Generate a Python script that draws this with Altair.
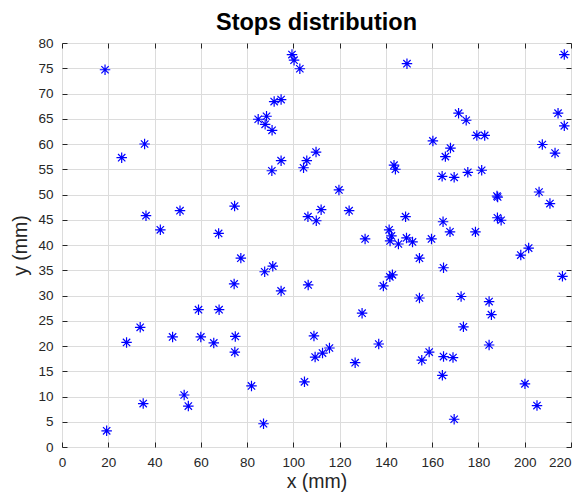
import altair as alt
import pandas as pd

xs = [18.6, 19.3, 25.8, 27.9, 33.8, 35.7, 35.1, 36.3, 42.5, 47.8, 51.0, 52.8, 54.6, 59.0, 60.0,
      65.6, 67.7, 67.9, 74.4, 74.6, 74.9, 74.7, 77.3, 81.9, 84.8, 87.1, 87.6, 88.4, 87.8, 90.8,
      90.7, 91.1, 91.7, 94.7, 94.7, 94.7, 99.4, 100.3, 102.8, 104.4, 104.8, 105.8, 106.3, 106.4,
      108.9, 109.4, 109.8, 109.9, 112.0, 112.6, 115.6, 119.7, 124.1, 126.7, 129.7, 131.0, 136.9,
      138.9, 141.4, 142.4, 141.8, 141.7, 142.8, 143.5, 144.1, 145.4, 148.5, 149.1, 148.9, 151.5,
      154.5, 154.5, 155.5, 158.7, 159.7, 160.3, 164.3, 164.7, 164.9, 164.4, 164.9, 165.7, 167.7,
      167.9, 169.5, 169.0, 169.5, 171.4, 172.5, 173.5, 174.7, 175.4, 178.7, 179.3, 181.4, 182.7,
      184.6, 184.6, 185.6, 188.0, 188.3, 188.2, 189.8, 198.3, 200.1, 201.7, 205.3, 206.2, 207.6,
      210.9, 213.1, 214.4, 216.3, 217.1, 217.1]
ys = [74.7, 3.2, 57.3, 20.7, 23.7, 60.0, 8.6, 45.8, 43.0, 21.8, 46.8, 10.3, 8.1, 27.2, 21.8,
      20.6, 42.3, 27.2, 32.3, 47.7, 21.9, 18.8, 37.4, 12.1, 64.9, 4.6, 34.7, 65.5, 63.9, 62.7,
      54.7, 35.8, 68.4, 68.8, 30.9, 56.7, 77.7, 76.6, 74.9, 55.3, 12.9, 56.7, 45.6, 32.1,
      22.0, 17.8, 58.4, 44.8, 47.0, 18.6, 19.6, 50.9, 46.8, 16.7, 26.5, 41.2, 20.4,
      31.9, 43.0, 41.8, 40.8, 33.7, 34.1, 55.8, 55.0, 40.2, 45.6, 75.9, 41.4, 40.6,
      37.4, 29.5, 17.2, 18.8, 41.2, 60.6, 53.6, 44.6, 35.5, 14.2, 17.9, 57.5, 42.6,
      59.2, 53.4, 17.7, 5.5, 66.1, 29.8, 23.8, 64.7, 54.4, 42.6, 61.7, 54.8, 61.7,
      28.8, 20.2, 26.2, 49.7, 49.5, 45.4, 44.9, 38.0, 12.5, 39.4, 8.2, 50.5, 59.9,
      48.2, 58.2, 66.1, 33.8, 63.6, 77.7]

x_ticks = list(range(0, 221, 20))
y_ticks = list(range(0, 81, 5))

df = pd.DataFrame({"x": xs, "y": ys})

FONT = "Liberation Sans"
AX = "#262626"
star = "M-1,0L1,0M0,-1L0,1M-0.7,-0.7L0.7,0.7M-0.7,0.7L0.7,-0.7"

xscale = alt.Scale(domain=[0, 220], nice=False, zero=False)
yscale = alt.Scale(domain=[0, 80], nice=False, zero=False)

pts = alt.Chart(df).mark_point(
    shape=star, size=110, color="#0000ff", strokeWidth=1.2, filled=False, opacity=1
).encode(
    x=alt.X("x:Q", scale=xscale, title="x (mm)",
            axis=alt.Axis(values=x_ticks, orient="bottom", offset=-5, tickSize=5, domain=False,
                          labelPadding=8, grid=True, gridColor="#dcdcdc", tickColor=AX,
                          labelColor=AX, labelFont=FONT, labelFontSize=13.5,
                          labelAlign={"condition": {"test": "datum.value == 220", "value": "right"},
                                      "value": "center"},
                          titleFont=FONT, titleFontSize=19.5, titleFontWeight="normal",
                          titleColor=AX, titlePadding=4, labelFlush=False)),
    y=alt.Y("y:Q", scale=yscale, title="y (mm)",
            axis=alt.Axis(values=y_ticks, orient="left", offset=-5, tickSize=5, domain=False,
                          labelPadding=9, grid=True, gridColor="#dcdcdc", tickColor=AX,
                          labelColor=AX, labelFont=FONT, labelFontSize=13.5,
                          titleFont=FONT, titleFontSize=19.5, titleFontWeight="normal",
                          titleColor=AX, titlePadding=7, labelFlush=False)),
)

frame = alt.Chart(df).mark_point(opacity=0).encode(
    x=alt.X("x:Q", scale=xscale, title=None,
            axis=alt.Axis(values=x_ticks, orient="top", offset=-5, tickSize=5, domain=False,
                          labels=False, grid=False, tickColor=AX)),
    y=alt.Y("y:Q", scale=yscale, title=None,
            axis=alt.Axis(values=y_ticks, orient="right", offset=-5, tickSize=5, domain=False,
                          labels=False, grid=False, tickColor=AX)),
)

chart = alt.layer(pts, frame).resolve_scale(x="independent", y="independent").properties(
    width=509, height=404,
    title=alt.TitleParams("Stops distribution", font=FONT, fontSize=23.5, fontWeight="bold",
                          color="#000000", anchor="middle", offset=2),
    autosize=alt.AutoSizeParams(type="none"),
    padding={"left": 54, "top": 35, "right": 6, "bottom": 45},
).configure_view(stroke=AX, strokeWidth=1).configure(background="white")

chart.save("out.html", embed_options={"renderer": "svg", "actions": False})
